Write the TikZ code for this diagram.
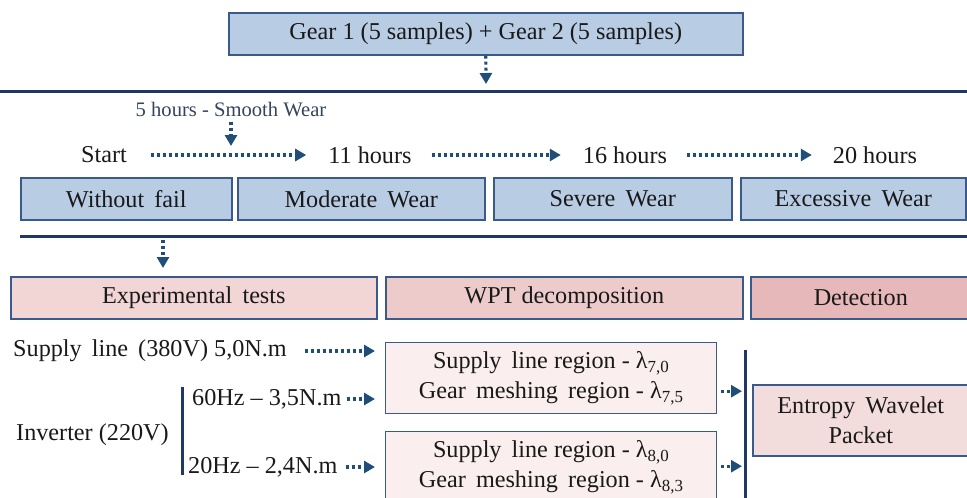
\documentclass[tikz,border=0pt]{standalone}
\usepackage{fontspec}
\setmainfont{LiberationSerif}[
  Extension=.ttf,
  UprightFont=*-Regular,
  BoldFont=*-Bold,
  ItalicFont=*-Italic,
  BoldItalicFont=*-BoldItalic]
\usetikzlibrary{arrows.meta}

\definecolor{navy}{HTML}{1F3864}
\definecolor{arrowblue}{HTML}{1F4E79}
\definecolor{boxedge}{HTML}{3B5A8C}
\definecolor{bluefill}{HTML}{B8CCE4}
\definecolor{pinkhead}{HTML}{F2D6D6}
\definecolor{pinkmid}{HTML}{EDCBCB}
\definecolor{pinkdark}{HTML}{E6B8B9}
\definecolor{pinklight}{HTML}{FAEEEE}
\definecolor{pinkbox}{HTML}{F3DCDC}
\definecolor{notetext}{HTML}{34445C}

\tikzset{
  txt/.style={font=\fontsize{24.2}{28}\selectfont, text=black!90, inner sep=0pt},
  panel/.style={draw=boxedge, line width=1.6pt, anchor=north west, inner sep=0pt, txt, align=center},
  bluebox/.style={panel, fill=bluefill},
  dotarrow/.style={arrowblue, line width=3.2pt, dash pattern=on 3pt off 3pt,
    -{Triangle[length=11pt,width=12pt]}},
  bar/.style={navy, line width=3pt},
}

\begin{document}
\begin{tikzpicture}[x=1pt,y=-1pt]
\useasboundingbox (0,0) rectangle (967,498);

% samples
\node[bluebox, minimum width=514pt, minimum height=42pt] (top) at (228,12)
  {Gear 1 (5 samples) + Gear 2 (5 samples)};
\coordinate (topend) at (486,84);
\draw[dotarrow] (top.south) -- (topend);

% wear timeline
\coordinate (lineA1) at (0,91);
\coordinate (lineA2) at (967,91);
\draw[bar] (lineA1) -- (lineA2);

\node[txt, text=notetext, font=\fontsize{20.6}{24}\selectfont] (smooth) at (231,110) {5 hours - Smooth Wear};
\coordinate (smoothend) at (231,146);
\draw[dotarrow] ([yshift=-4pt]smooth.south -| smoothend) -- (smoothend);

\node[txt] (start) at (104,155) {Start};
\node[txt] (h11) at (370,155) {11 hours};
\node[txt] (h16) at (625,155) {16 hours};
\node[txt] (h20) at (875,155) {20 hours};
\draw[dotarrow] ([xshift=24pt]start.east) -- ([xshift=-22pt]h11.west);
\draw[dotarrow] ([xshift=20pt]h11.east) -- ([xshift=-22pt]h16.west);
\draw[dotarrow] ([xshift=20pt]h16.east) -- ([xshift=-21pt]h20.west);

\node[bluebox, minimum width=211pt, minimum height=42pt] (nofail) at (20,177) {Without\, fail};
\node[bluebox, minimum width=247pt, minimum height=42pt] (moderate) at (237,177) {Moderate\, Wear};
\node[bluebox, minimum width=238pt, minimum height=42pt] (severe) at (493,177) {Severe\, Wear};
\node[bluebox, minimum width=225pt, minimum height=42pt] (excessive) at (740,177) {Excessive\, Wear};

\coordinate (lineB1) at (20,236);
\coordinate (lineB2) at (967,236);
\draw[bar] (lineB1) -- (lineB2);

% stage headers
\node[panel, fill=pinkhead, minimum width=366pt, minimum height=42pt] (exp) at (10,276) {Experimental\, tests};
\node[panel, fill=pinkmid, minimum width=357pt, minimum height=42pt] (wpt) at (385,276) {WPT decomposition};
\node[panel, fill=pinkdark, minimum width=220pt, minimum height=42pt] (det) at (750,276) {Detection};

\coordinate (expstart) at (163,240);
\coordinate (expend) at (163,268);
\draw[dotarrow] (expstart) -- (expend);

% test conditions
\node[txt, anchor=west] (supply) at (13,351) {Supply\, line\, (380V) 5,0N.m};
\node[txt, anchor=west] (inv) at (16,435) {Inverter (220V)};
\coordinate (barL1) at (182,387);
\coordinate (barL2) at (182,475);
\draw[bar] (barL1) -- (barL2);
\node[txt, anchor=west] (f60) at (192,399) {60Hz -- 3,5N.m};
\node[txt, anchor=west] (f20) at (188,467) {20Hz -- 2,4N.m};

% decomposition regions
\node[panel, fill=pinklight, minimum width=331pt, minimum height=71pt, line width=1.4pt] (r7) at (385,342)
  {Supply\, line region - λ\textsubscript{7,0}\\[2pt] Gear\, meshing\, region - λ\textsubscript{7,5}};
\node[panel, fill=pinklight, minimum width=331pt, minimum height=71pt, line width=1.4pt] (r8) at (385,431)
  {Supply\, line region - λ\textsubscript{8,0}\\[2pt] Gear\, meshing\, region - λ\textsubscript{8,3}};

\draw[dotarrow] ([xshift=18pt]supply.east) -- ([xshift=-10pt]r7.west |- supply.east);
\draw[dotarrow] ([xshift=5pt]f60.east) -- ([xshift=-10pt]r7.west |- f60.east);
\draw[dotarrow] ([xshift=8pt]f20.east) -- ([xshift=-10pt]r8.west |- f20.east);

\coordinate (barR1) at (745,350);
\coordinate (barR2) at (745,500);
\draw[bar] (barR1) -- (barR2);
\draw[dotarrow] ([xshift=4pt,yshift=-13pt]r7.east) -- ([xshift=-3pt,yshift=-13pt]r7.east -| barR1);
\draw[dotarrow] ([xshift=4pt,yshift=1pt]r8.east) -- ([xshift=-3pt,yshift=1pt]r8.east -| barR1);

% detection
\node[panel, fill=pinkbox, minimum width=216pt, minimum height=71pt] (ewp) at (752,384)
  {Entropy\, Wavelet\\[2pt] Packet};
\end{tikzpicture}
\end{document}
